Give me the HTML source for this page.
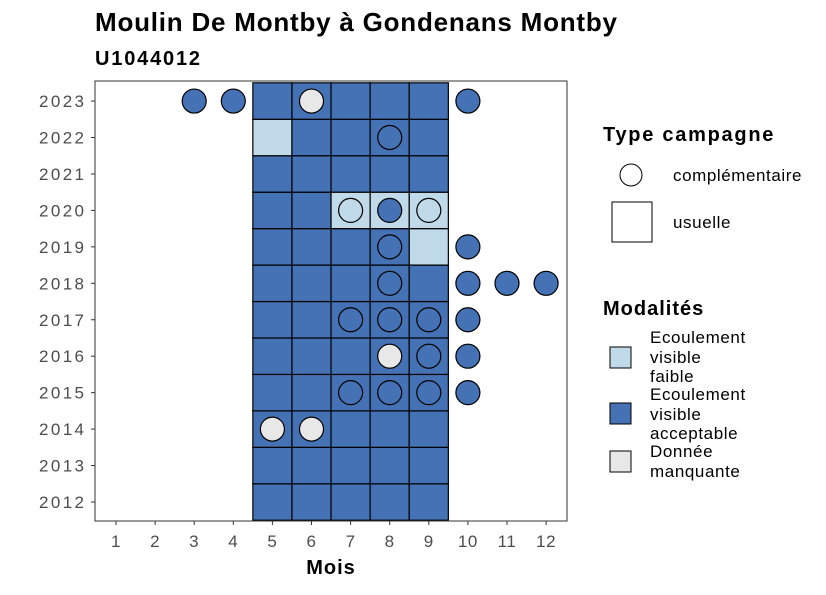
<!DOCTYPE html>
<html><head><meta charset="utf-8"><style>
body{margin:0;background:#fff;}
svg{font-family:"Liberation Sans",sans-serif;}
</style></head><body>
<svg id="chart" width="826" height="590">
<text x="95" y="31" font-size="26" font-weight="bold" textLength="522" lengthAdjust="spacing">Moulin De Montby à Gondenans Montby</text>
<text x="95" y="65" font-size="20" font-weight="bold" textLength="105" lengthAdjust="spacing">U1044012</text>
<g id="tiles"></g><g id="circles"></g>
<rect x="95" y="81" width="472" height="440" fill="none" stroke="#333" stroke-width="1"/>
<g id="xticks"></g><g id="yticks"></g>
<text x="331" y="574" font-size="20" font-weight="bold" text-anchor="middle" letter-spacing="1">Mois</text>
<g font-size="17" letter-spacing="0.6">
<text x="603" y="141" font-size="20" font-weight="bold" textLength="171" lengthAdjust="spacing">Type campagne</text>
<circle cx="631" cy="175" r="11" fill="#fff" stroke="#000"/>
<text x="673" y="181" textLength="129" lengthAdjust="spacing">complémentaire</text>
<rect x="612" y="202" width="40" height="40" fill="#fff" stroke="#000"/>
<text x="673" y="228">usuelle</text>
<text x="603" y="315" font-size="20" font-weight="bold" letter-spacing="1">Modalités</text>
<rect x="610" y="347" width="21" height="21" fill="#C0DAEA" stroke="#000"/>
<text><tspan x="650" y="343">Ecoulement</tspan><tspan x="650" y="363">visible</tspan><tspan x="650" y="382">faible</tspan></text>
<rect x="610" y="403" width="21" height="21" fill="#4472B4" stroke="#000"/>
<text><tspan x="650" y="400">Ecoulement</tspan><tspan x="650" y="420">visible</tspan><tspan x="650" y="439">acceptable</tspan></text>
<rect x="610" y="451" width="21" height="21" fill="#E8E8E8" stroke="#000"/>
<text><tspan x="650" y="457">Donnée</tspan><tspan x="650" y="477">manquante</tspan></text>
</g>
</svg>
<script>
const months=[1,2,3,4,5,6,7,8,9,10,11,12];
const years=[2012,2013,2014,2015,2016,2017,2018,2019,2020,2021,2022,2023];
const tileYears=[2012,2013,2014,2015,2016,2017,2018,2019,2020,2021,2022,2023];
const tileMonths=[5,6,7,8,9];
const lightTiles=[[2022,5],[2020,7],[2020,8],[2020,9],[2019,9]];
const circYears=[2023,2023,2023,2023,2022,2020,2020,2020,2019,2019,2018,2018,2018,2018,2017,2017,2017,2017,2016,2016,2016,2015,2015,2015,2015,2014,2014];
const circMonths=[3,4,6,10,8,7,8,9,8,10,8,10,11,12,7,8,9,10,8,9,10,7,8,9,10,5,6];
const circMods=['A','A','M','A','A','F','A','F','A','A','A','A','A','A','A','A','A','A','M','A','A','A','A','A','A','M','M'];
const colors={F:'#C0DAEA',A:'#4472B4',M:'#E8E8E8'};
const xs=m=>116+(m-1)*39.1, ys=y=>502-(y-2012)*36.45, W=39.1,H=36.45;
const NS='http://www.w3.org/2000/svg';
const mk=(t,a,p)=>{const e=document.createElementNS(NS,t);for(const k in a)e.setAttribute(k,a[k]);document.getElementById(p).appendChild(e);return e;};
tileYears.forEach(y=>tileMonths.forEach(m=>{
  const light=lightTiles.some(t=>t[0]===y&&t[1]===m);
  const r=mk('rect',{x:xs(m)-W/2,y:ys(y)-H/2,width:W,height:H,fill:light?colors.F:colors.A,stroke:'#000','stroke-width':1.2},'tiles');
  
  
}));
circYears.forEach((y,i)=>{
  const c=mk('circle',{cx:xs(circMonths[i]),cy:ys(y),r:12,fill:colors[circMods[i]],stroke:'#000','stroke-width':1.2},'circles');
  
  
});
months.forEach(m=>{
  const l=mk('line',{x1:xs(m),x2:xs(m),y1:521,y2:525,stroke:'#333'},'xticks');
  
  
  const t=mk('text',{x:xs(m),y:547,'font-size':17,'letter-spacing':0.6,fill:'#4d4d4d','text-anchor':'middle'},'xticks');
  t.textContent=m;
  
  
});
years.forEach(y=>{
  const l=mk('line',{x1:91,x2:95,y1:ys(y),y2:ys(y),stroke:'#333'},'yticks');
  
  
  const t=mk('text',{x:84,y:ys(y)+6,'font-size':17,fill:'#4d4d4d','text-anchor':'end',textLength:45,lengthAdjust:'spacing'},'yticks');
  t.textContent=y;
  
  
});
</script>
</body></html>
